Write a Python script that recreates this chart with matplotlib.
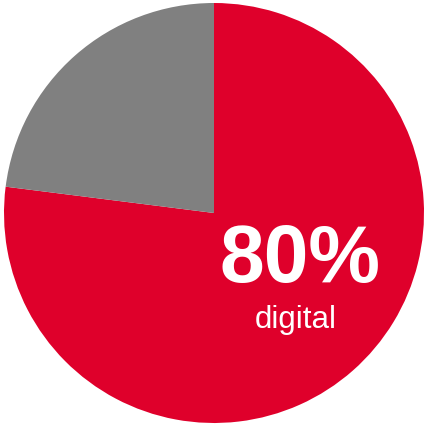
import matplotlib
matplotlib.use("Agg")
import matplotlib.pyplot as plt

labels = ["digital", "other"]
values = [77, 23]
colors = ["#DF002B", "#808080"]
big_label = "80%"
small_label = "digital"

W, H = 425, 424
fig = plt.figure(figsize=(W / 100, H / 100), dpi=100)
ax = fig.add_axes([0, 0, 1, 1])
ax.pie(values, colors=colors, startangle=90, counterclock=False, radius=1,
       wedgeprops=dict(linewidth=0))
cx, cy, r = 214, 213, 210
ax.set_xlim(-cx / r, (W - cx) / r)
ax.set_ylim(-(H - cy) / r, cy / r)
ax.set_aspect("auto")
ax.axis("off")
ax.text((300 - cx) / r, (cy - 261) / r, big_label, ha="center", va="center",
        color="white", fontsize=58, fontweight="bold", family="Liberation Sans")
ax.text((296 - cx) / r, (cy - 320) / r, small_label, ha="center", va="center",
        color="white", fontsize=22.5, family="Liberation Sans")
fig.savefig("out.png", dpi=100)
